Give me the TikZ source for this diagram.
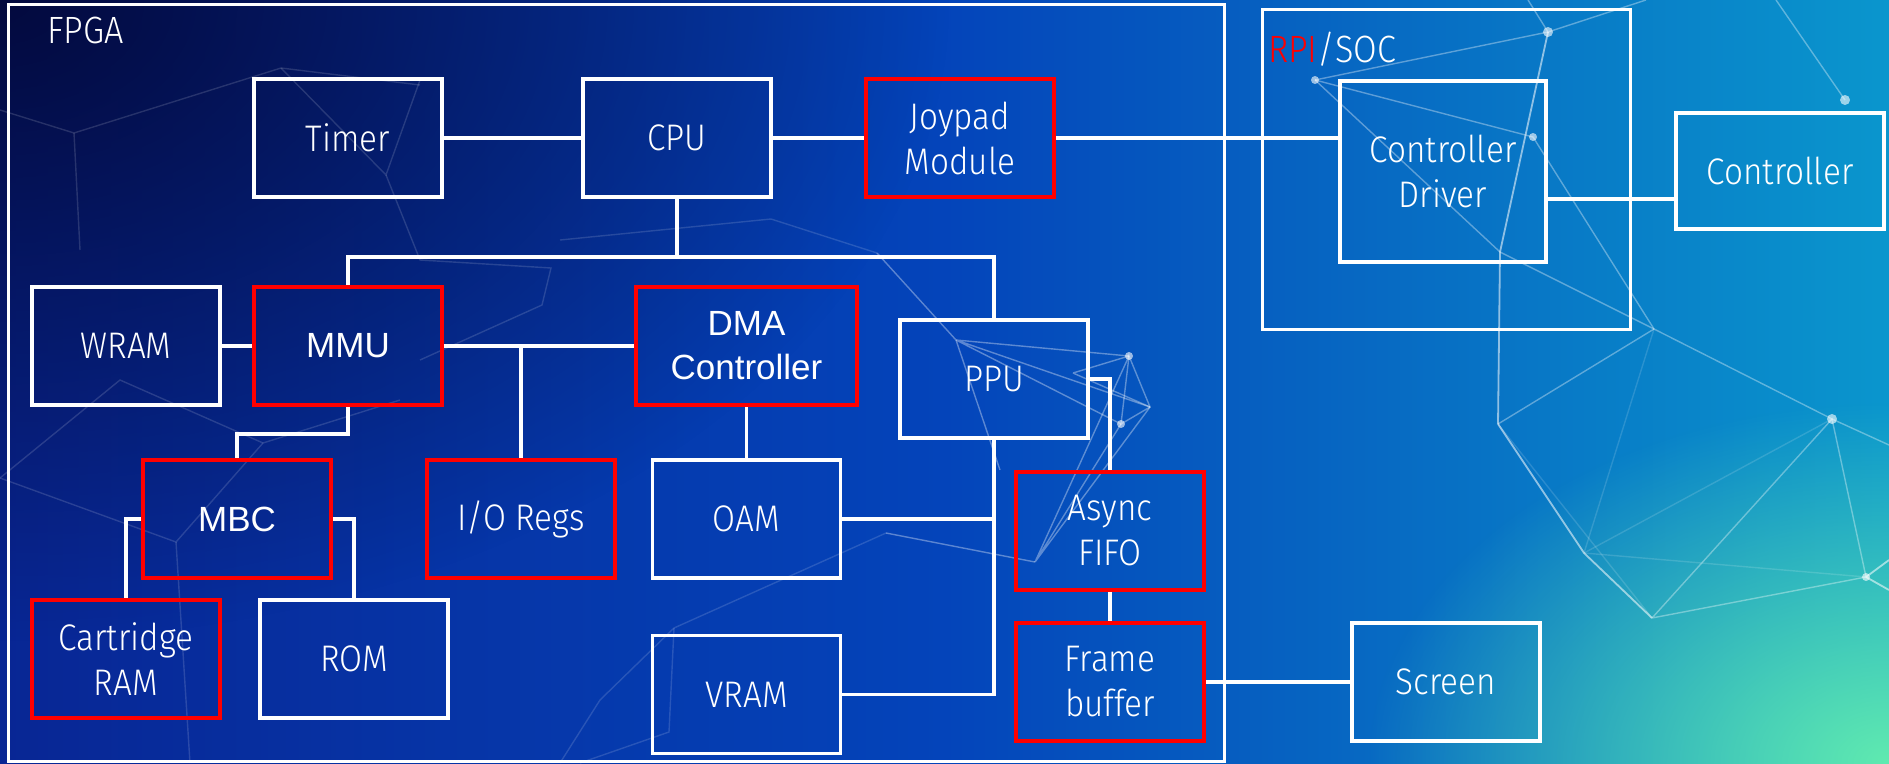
\documentclass[tikz,border=0pt]{standalone}
\usepackage{fontspec}
\setmainfont{Fira Sans}[UprightFont=* Light, FakeStretch=0.9]
\newfontfamily\arialf{Liberation Sans}
\usetikzlibrary{fadings}
\definecolor{boxred}{RGB}{255,0,0}
\definecolor{bgL}{RGB}{8,38,148}
\definecolor{bgM}{RGB}{4,68,186}
\definecolor{bgR}{RGB}{10,150,205}
\definecolor{bgDark}{RGB}{3,10,62}
\definecolor{mint}{RGB}{96,234,176}
\tikzfading[name=soft, inner color=transparent!0, outer color=transparent!100]
\begin{document}
\begin{tikzpicture}[x=1pt,y=-1pt,
  box/.style={draw=white, line width=3.5pt, minimum width=188pt, minimum height=118pt,
    inner sep=0pt, text=white, font=\fontsize{37}{45}\selectfont, align=center},
  rbox/.style={box, draw=boxred, line width=4pt},
  abox/.style={rbox, font=\arialf\fontsize{35}{44}\selectfont},
  frame/.style={draw=white, line width=3pt, inner sep=0pt},
  wire/.style={white, line width=3.5pt},
  net/.style={white, line width=1.4pt, opacity=0.14},
  netb/.style={white, line width=1.8pt, opacity=0.55},
  netc/.style={white, line width=1.4pt, opacity=0.35},
  label/.style={text=white, font=\fontsize{38}{44}\selectfont, inner sep=0pt}]
\useasboundingbox (0,0) rectangle (1889,763);
% background
\shade[left color=bgL, right color=bgR, middle color=bgM] (0,0) rectangle (1889,763);
\fill[bgDark, path fading=soft] (0,0) ellipse [x radius=950, y radius=640];
\fill[mint, path fading=soft] (1889,763) ellipse [x radius=520, y radius=360];
% decorative network, left (faint)
\draw[net] (0,110) -- (74,133) -- (281,68) -- (420,85);
\draw[net] (281,68) -- (386,175) -- (420,80);
\draw[net] (74,133) -- (80,250);
\draw[net] (386,175) -- (420,260) -- (551,268) -- (542,305) -- (420,360);
\draw[net] (0,478) -- (176,542) -- (263,443) -- (400,400);
\draw[net] (0,478) -- (120,380) -- (263,443);
\draw[net] (176,542) -- (190,763);
\draw[net] (771,219) -- (877,253);
\draw[net] (560,240) -- (771,219);
\draw[net] (674,628) -- (669,732) -- (580,763);
\draw[net] (674,628) -- (600,700) -- (560,763);
\draw[net] (886,533) -- (674,628);
% decorative network, PPU cluster
\draw[netc] (877,253) -- (956,340);
\draw[netc] (956,340) -- (1129,356) (956,340) -- (1150,407) (956,340) -- (1121,424);
\draw[netc] (1073,373) -- (1129,356) (1073,373) -- (1150,407);
\draw[netc] (1129,356) -- (1121,424) -- (1150,407) -- cycle;
\draw[netc] (1035,562) -- (1129,356) (1035,562) -- (1150,407) (1035,562) -- (1121,424);
\draw[netc] (886,533) -- (1035,562);
\draw[netc] (956,340) -- (1000,470);
\fill[white, opacity=0.6] (1129,356) circle (4) (1121,424) circle (4);
% decorative network, right
\draw[netc] (1548,32) -- (1315,80);
\draw[netc] (1548,32) -- (1646,0) (1548,32) -- (1528,0);
\draw[netb] (1548,32) -- (1500,252) -- (1498,424);
\draw[netc] (1315,80) -- (1533,137) -- (1654,329);
\draw[netc] (1315,80) -- (1500,252) -- (1654,329) -- (1832,419);
\draw[netc] (1845,100) -- (1776,0);
\draw[netc] (1654,329) -- (1498,424);
\draw[net] (1654,329) -- (1584,553);
\draw[netb] (1498,424) -- (1584,553) -- (1652,618);
\draw[netc] (1652,618) -- (1866,577) -- (1832,419) -- (1652,618);
\draw[net] (1832,419) -- (1584,553);
\draw[net] (1584,553) -- (1866,577);
\draw[net] (1498,424) -- (1652,618);
\draw[netc] (1832,419) -- (1889,445);
\draw[netb] (1866,577) -- (1889,560) (1866,577) -- (1889,590);
\fill[white, opacity=0.6] (1548,32) circle (5) (1315,80) circle (4) (1533,137) circle (4)
  (1845,100) circle (5) (1832,419) circle (5) (1866,577) circle (4);
% containers
\node[frame, minimum width=1216pt, minimum height=757pt] (fpga) at (616,382.5) {};
\node[label, anchor=base west] (fpgalabel) at (47,43) {FPGA};
\node[frame, minimum width=368pt, minimum height=320pt] (rpi) at (1446,169) {};
\node[label, anchor=base west] (rpilabel) at (1268,62) {\textcolor{boxred}{RPI}/SOC};
% blocks
\node[box] (timer) at (348,138) {Timer};
\node[box] (cpu) at (677,138) {CPU};
\node[rbox] (joy) at (960,138) {Joypad\\Module};
\node[box] (wram) at (126,346) {WRAM};
\node[abox] (mmu) at (348,346) {MMU};
\node[abox, minimum width=221pt] (dma) at (746.5,346) {DMA\\Controller};
\node[box] (ppu) at (994,379) {PPU};
\node[rbox] (io) at (521,519) {I/O Regs};
\node[abox] (mbc) at (237,519) {MBC};
\node[box] (oam) at (746.5,519) {OAM};
\node[rbox] (fifo) at (1110,531) {Async\\FIFO};
\node[rbox] (cart) at (126,659) {Cartridge\\RAM};
\node[box] (rom) at (354,659) {ROM};
\node[box] (vram) at (746.5,694.5) {VRAM};
\node[rbox] (fb) at (1110,682) {Frame\\buffer};
\node[box] (screen) at (1446,682) {Screen};
\node[box, minimum width=206pt, minimum height=181pt] (drv) at (1443,171.5) {Controller\\Driver};
\node[box, minimum width=208pt, minimum height=116pt] (ctrl) at (1780,171) {Controller};
% bus coordinates
\coordinate (busL) at (348,257);
\coordinate (busR) at (994,257);
% connectors
\draw[wire] (timer.east) -- (cpu.west);
\draw[wire] (cpu.east) -- (joy.west);
\draw[wire] (joy.east) -- (joy.east -| drv.west);
\draw[wire] ([yshift=-27.5pt]drv.east) -- ([yshift=-27.5pt]drv.east -| ctrl.west);
\draw[wire] (mmu.north) -- (busL) -- (busR) -- (ppu.north);
\draw[wire] (cpu.south) -- (cpu.south |- busL);
\draw[wire] (wram.east) -- (mmu.west);
\draw[wire] (mmu.east) -- (dma.west);
\draw[wire] (io.north) -- (io.north |- mmu.east);
\draw[wire] (mmu.south) -- ++(0,27) -| (mbc.north);
\draw[wire] (mbc.west) -| (cart.north);
\draw[wire] (mbc.east) -| (rom.north);
\draw[wire] (dma.south) -- (oam.north);
\draw[wire] (oam.east) -- (oam.east -| ppu.south);
\draw[wire] (vram.east) -| (ppu.south);
\draw[wire] (ppu.east) -| (fifo.north);
\draw[wire] (fifo.south) -- (fb.north);
\draw[wire] (fb.east) -- (screen.west);
\end{tikzpicture}
\end{document}
